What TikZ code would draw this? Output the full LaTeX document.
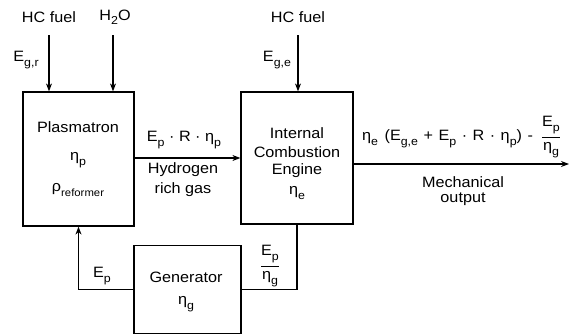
\documentclass[tikz,border=0pt]{standalone}
\usepackage{fontspec}
\setmainfont{Liberation Sans}[FakeStretch=1.08]
\usepackage{amsmath}
\usetikzlibrary{arrows.meta}
\newcommand\lo[1]{\raisebox{-0.55ex}{\fontsize{11.5}{11.5}\selectfont #1}}
\newcommand\myfrac[2]{$\genfrac{}{}{1.1pt}{0}{\hbox{#1}}{\hbox{#2}}$}
\newcommand\gapsp{\hspace{5.5pt}}
\begin{document}
\begin{tikzpicture}[x=1pt,y=-1pt,
  every node/.style={font=\fontsize{15}{17}\selectfont, inner sep=0pt},
  ln/.style={line width=1.2pt},
  arr/.style={ln, -{Stealth[length=8pt,width=6pt]}},
  txt/.style={align=center}]
\useasboundingbox (0,0) rectangle (570,335);
% boxes
\node[draw, line width=1.2pt, minimum width=111pt, minimum height=134pt] (plas) at (78.5,159) {};
\node[draw, line width=1.2pt, minimum width=112pt, minimum height=132pt] (ice) at (297,158) {};
\node[draw, line width=1.2pt, minimum width=107pt, minimum height=88pt] (gen) at (187.5,289.5) {};
% top labels
\node (hc1) at (49,17) {HC fuel};
\node (h2o) at (115,17) {H\lo{2}O};
\node (hc2) at (298,17) {HC fuel};
\node (egr) at (26,60) {E\lo{g,r}};
\node (ege) at (277,60) {E\lo{g,e}};
\coordinate (s1) at (49,35);
\coordinate (s2) at (113,35);
\coordinate (s3) at (298,35);
\draw[arr] (s1) -- (s1 |- plas.north);
\draw[arr] (s2) -- (s2 |- plas.north);
\draw[arr] (s3) -- (s3 |- ice.north);
% plasmatron text
\node (pl1) at (78,127) {Plasmatron};
\node (pl2) at (78,160) {η\lo{p}};
\node (pl3) at (78,190) {ρ\lo{\fontsize{10.5}{10.5}\selectfont reformer}};
% ice text
\node (ic1) at (297,133) {Internal};
\node (ic2) at (297,152) {Combustion};
\node (ic3) at (297,171) {Engine};
\node (ic4) at (297,193) {η\lo{e}};
% hydrogen link
\coordinate (h1) at (134,158);
\draw[arr] (h1) -- (h1 -| ice.west);
\node (hl1) at (184,140) {E\lo{p} · R · η\lo{p}};
\node (hl2) at (183,170) {Hydrogen};
\node (hl3) at (183,190) {rich gas};
% output
\coordinate (o1) at (353,164);
\coordinate (o2) at (569,164);
\draw[arr] (o1) -- (o2);
\node[anchor=west] (form) at (362,137) {η\lo{e}\hspace{2pt} (E\lo{g,e}\gapsp+\gapsp E\lo{p}\gapsp·\gapsp R\gapsp·\gapsp η\lo{p})\gapsp-\hspace{8pt}\myfrac{E\lo{p}}{η\lo{g}}};
\node (mech1) at (463,182) {Mechanical};
\node (mech2) at (463,199) {output};
% generator
\node (g1) at (186,277) {Generator};
\node (g2) at (186,304) {η\lo{g}};
\draw[ln] (ice.south) |- (gen.east);
\draw[arr] (gen.west) -| (plas.south);
\node (ep) at (102,276) {E\lo{p}};
\node (epg) at (270,266) {\myfrac{E\lo{p}}{η\lo{g}}};
\end{tikzpicture}
\end{document}
